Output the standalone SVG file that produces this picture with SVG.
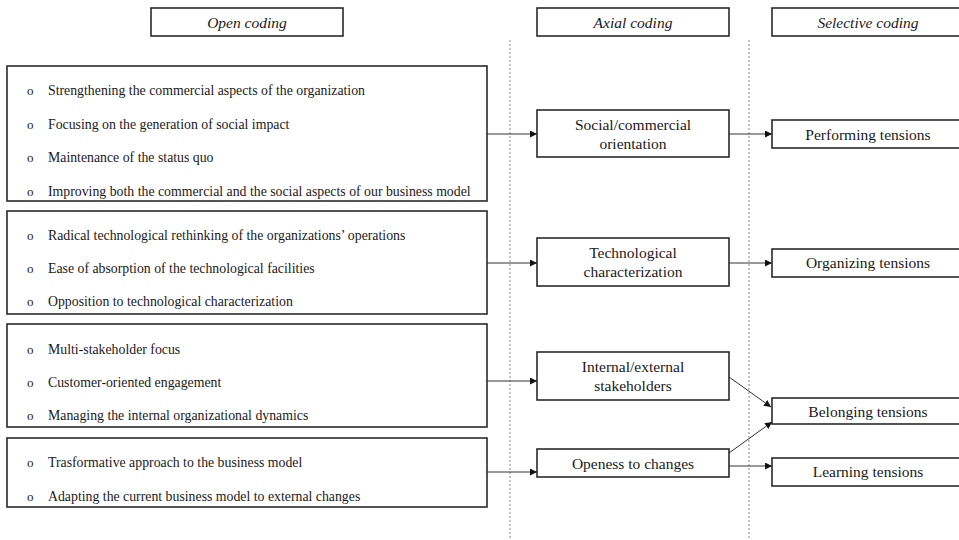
<svg xmlns="http://www.w3.org/2000/svg" width="959" height="540" viewBox="0 0 959 540">
<defs>
<marker id="ah" markerUnits="userSpaceOnUse" markerWidth="8" markerHeight="8" refX="7" refY="3.5" orient="auto">
<path d="M0,0 L7,3.5 L0,7 z" fill="#111"/>
</marker>
<style>
.box{fill:#fff;stroke:#2a2a2a;stroke-width:1.6}
.hd{font-family:"Liberation Serif","Times New Roman",serif;font-style:italic;font-size:15.5px;fill:#1a1a1a;text-anchor:middle}
.it{font-family:"Liberation Serif","Times New Roman",serif;font-size:13.8px;fill:#1a1a1a}
.bu{font-family:"Liberation Serif","Times New Roman",serif;font-size:13px;fill:#1a1a1a}
.lb{font-family:"Liberation Serif","Times New Roman",serif;font-size:15.5px;fill:#1a1a1a;text-anchor:middle}
.con{stroke:#333;stroke-width:1;fill:none;marker-end:url(#ah)}
.sep{stroke:#888;stroke-width:1;stroke-dasharray:2 2;fill:none}
</style>
</defs>
<rect width="959" height="540" fill="#fff"/>

<g id="separators">
<line class="sep" x1="510" y1="40" x2="510" y2="540"/>
<line class="sep" x1="749" y1="40" x2="749" y2="540"/>
</g>

<g id="hdr-open"><rect class="box" x="151" y="8" width="192" height="28"/><text class="hd" x="247" y="28">Open coding</text></g>
<g id="hdr-axial"><rect class="box" x="537" y="8" width="192" height="28"/><text class="hd" x="633" y="28">Axial coding</text></g>
<g id="hdr-selective"><rect class="box" x="772" y="8" width="192" height="28"/><text class="hd" x="868" y="28">Selective coding</text></g>

<g id="open1">
<rect class="box" x="7" y="66" width="480" height="135"/>
<text class="bu" x="27" y="95">o</text><text class="it" x="48" y="95">Strengthening the commercial aspects of the organization</text>
<text class="bu" x="27" y="129">o</text><text class="it" x="48" y="129">Focusing on the generation of social impact</text>
<text class="bu" x="27" y="162">o</text><text class="it" x="48" y="162">Maintenance of the status quo</text>
<text class="bu" x="27" y="196">o</text><text class="it" x="48" y="196">Improving both the commercial and the social aspects of our business model</text>
</g>
<g id="open2">
<rect class="box" x="7" y="211" width="480" height="103"/>
<text class="bu" x="27" y="240">o</text><text class="it" x="48" y="240">Radical technological rethinking of the organizations’ operations</text>
<text class="bu" x="27" y="273">o</text><text class="it" x="48" y="273">Ease of absorption of the technological facilities</text>
<text class="bu" x="27" y="306">o</text><text class="it" x="48" y="306">Opposition to technological characterization</text>
</g>
<g id="open3">
<rect class="box" x="7" y="324" width="480" height="103"/>
<text class="bu" x="27" y="354">o</text><text class="it" x="48" y="354">Multi-stakeholder focus</text>
<text class="bu" x="27" y="387">o</text><text class="it" x="48" y="387">Customer-oriented engagement</text>
<text class="bu" x="27" y="420">o</text><text class="it" x="48" y="420">Managing the internal organizational dynamics</text>
</g>
<g id="open4">
<rect class="box" x="7" y="438" width="480" height="69"/>
<text class="bu" x="27" y="467">o</text><text class="it" x="48" y="467">Trasformative approach to the business model</text>
<text class="bu" x="27" y="501">o</text><text class="it" x="48" y="501">Adapting the current business model to external changes</text>
</g>

<g id="ax1"><rect class="box" x="537" y="110" width="192" height="47"/><text class="lb" x="633" y="130">Social/commercial</text><text class="lb" x="633" y="149">orientation</text></g>
<g id="ax2"><rect class="box" x="537" y="238" width="192" height="48"/><text class="lb" x="633" y="258">Technological</text><text class="lb" x="633" y="277">characterization</text></g>
<g id="ax3"><rect class="box" x="537" y="352" width="192" height="48"/><text class="lb" x="633" y="372">Internal/external</text><text class="lb" x="633" y="391">stakeholders</text></g>
<g id="ax4"><rect class="box" x="537" y="449" width="192" height="28"/><text class="lb" x="633" y="469">Openess to changes</text></g>

<g id="sel1"><rect class="box" x="772" y="120" width="192" height="28"/><text class="lb" x="868" y="140">Performing tensions</text></g>
<g id="sel2"><rect class="box" x="772" y="249" width="192" height="28"/><text class="lb" x="868" y="268">Organizing tensions</text></g>
<g id="sel3"><rect class="box" x="772" y="398" width="192" height="26"/><text class="lb" x="868" y="417">Belonging tensions</text></g>
<g id="sel4"><rect class="box" x="772" y="458" width="192" height="28"/><text class="lb" x="868" y="477">Learning tensions</text></g>

<g id="connectors">
<line class="con" x1="487" y1="134" x2="537" y2="134"/>
<line class="con" x1="729" y1="134" x2="772" y2="134"/>
<line class="con" x1="487" y1="263" x2="537" y2="263"/>
<line class="con" x1="729" y1="263" x2="772" y2="263"/>
<line class="con" x1="487" y1="381" x2="537" y2="381"/>
<line class="con" x1="729" y1="377" x2="771" y2="407"/>
<line class="con" x1="487" y1="472" x2="537" y2="472"/>
<line class="con" x1="729" y1="453" x2="772" y2="422"/>
<line class="con" x1="729" y1="466" x2="772" y2="466"/>
</g>
</svg>
